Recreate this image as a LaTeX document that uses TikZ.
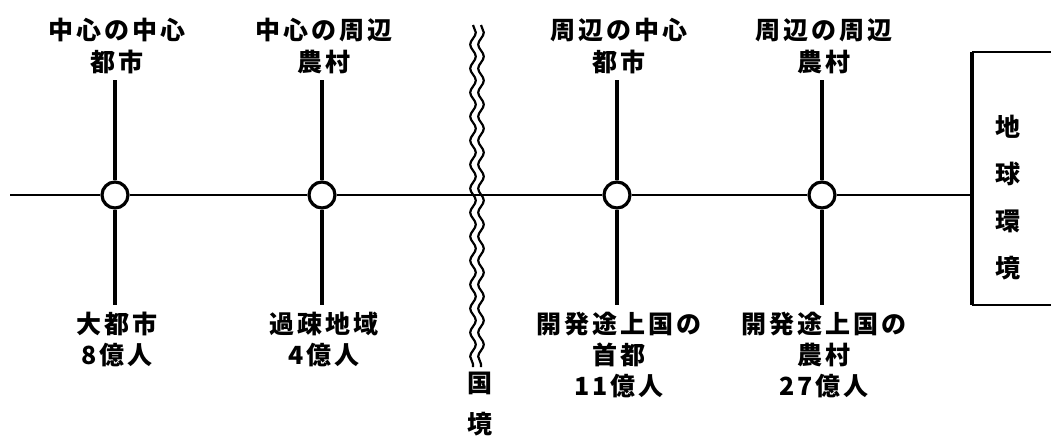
\documentclass[tikz,border=0pt]{standalone}
\usepackage{fontspec}
\newfontfamily\jp{Noto Sans CJK JP}[LetterSpace=12]
\usetikzlibrary{decorations.pathmorphing}
\tikzset{
  lbl/.style={font=\jp\bfseries\fontsize{25}{32}\selectfont, align=center, inner sep=0pt},
  lblb/.style={font=\jp\bfseries\fontsize{25}{31}\selectfont, align=center, inner sep=0pt},
  hub/.style={circle, draw, line width=3.2pt, fill=white, minimum size=26pt, inner sep=0pt},
  spoke/.style={line width=3.4pt},
  axis/.style={line width=2.2pt},
  wave/.style={line width=2.2pt, decorate, decoration={snake, amplitude=2.8pt, segment length=24pt}},
}
\begin{document}
\begin{tikzpicture}[x=1pt,y=-1pt]
\useasboundingbox (0,0) rectangle (1051,437);
% hubs
\node[hub] (c1) at (115,195) {};
\node[hub] (c2) at (322,195) {};
\node[hub] (c3) at (617,195) {};
\node[hub] (c4) at (822,195) {};
% top labels
\node[lbl] (t1) at (117,46) {中心の中心\\都市};
\node[lbl] (t2) at (324,46) {中心の周辺\\農村};
\node[lbl] (t3) at (619,46) {周辺の中心\\都市};
\node[lbl] (t4) at (824,46) {周辺の周辺\\農村};
% bottom labels
\node[lblb,anchor=north] (b1) at (117,312) {大都市\\8億人};
\node[lblb,anchor=north] (b2) at (324,312) {過疎地域\\4億人};
\node[lblb,anchor=north] (b3) at (619,312) {開発途上国の\\首都\\11億人};
\node[lblb,anchor=north] (b4) at (824,312) {開発途上国の\\農村\\27億人};
% spoke ends
\foreach \i/\x in {1/115,2/322,3/617,4/822}{
  \coordinate (u\i) at (\x,80);
  \coordinate (d\i) at (\x,305);
}
% axis
\coordinate (L) at (10,195);
\coordinate (R) at (972,195);
\draw[axis] (L) -- (c1) (c1) -- (c2) (c2) -- (c3) (c3) -- (c4) (c4) -- (R);
\foreach \i in {1,2,3,4}{
  \draw[spoke] (u\i) -- (c\i) (c\i) -- (d\i);
}
% border (wavy double line)
\coordinate (w1a) at (473,25);
\coordinate (w1b) at (473,367);
\coordinate (w2a) at (481,25);
\coordinate (w2b) at (481,367);
\draw[wave] (w1a) -- (w1b);
\draw[wave] (w2a) -- (w2b);
\node[lbl] (k1) at (480,383) {国};
\node[lbl] (k2) at (480,424) {境};
% earth environment box
\coordinate (bxTL) at (972,52);
\coordinate (bxBL) at (972,305);
\coordinate (bxTR) at (1051,52);
\coordinate (bxBR) at (1051,305);
\draw[line width=2.6pt] (bxTR) -- (bxTL);
\draw[line width=2.6pt] (bxBL) -- (bxBR);
\draw[line width=4pt] (bxTL) -- (bxBL);
\node[font=\jp\bfseries\fontsize{25}{47}\selectfont, align=center, inner sep=0pt] (env) at (1008,198) {地\\球\\環\\境};
\end{tikzpicture}
\end{document}
